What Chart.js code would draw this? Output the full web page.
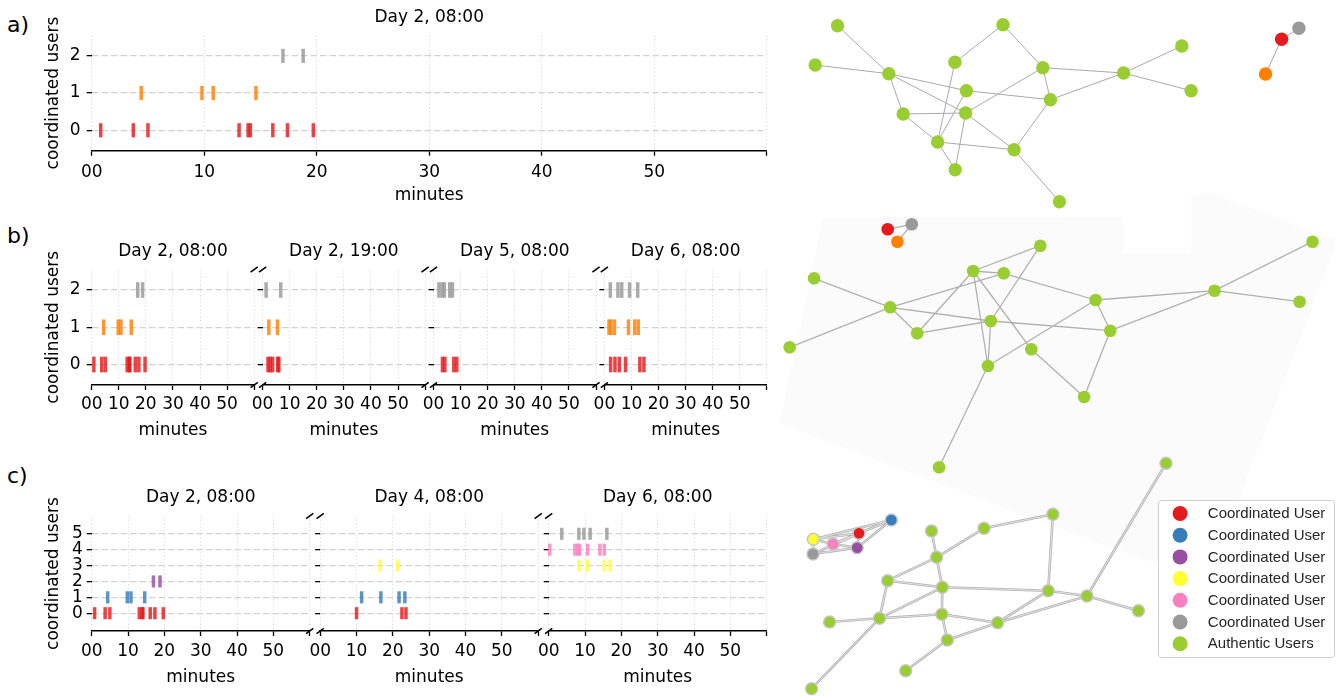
<!DOCTYPE html>
<html>
<head>
<meta charset="utf-8">
<title>Coordinated posting windows and co-activity networks</title>
<script src="https://cdn.jsdelivr.net/npm/chart.js@4.4.1/dist/chart.umd.min.js"></script>
<style>
  html, body { margin: 0; padding: 0; background: #fff; }
  body { position: relative; width: 1343px; height: 696px; overflow: hidden; font-family: "DejaVu Sans", sans-serif; }
  canvas { position: absolute; }
  .panel { position: absolute; left: 7px; font-size: 22px; line-height: 22px; color: #000; }
</style>
</head>
<body>
<div class="panel" style="top:13.6px">a)</div>
<div class="panel" style="top:224.7px">b)</div>
<div class="panel" style="top:464.7px">c)</div>
<script>
// ---------- posting times (minutes after the window opens) ----------
const MINUTE_TICKS = [0, 10, 20, 30, 40, 50, 60];
const MINUTE_TICK_LABELS = ['00', '10', '20', '30', '40', '50', ''];

// Day 2, 08:00
const D2_0800_USER0 = [0.8, 3.7, 5.0, 13.1, 13.9, 14.1, 16.1, 17.4, 19.7];
const D2_0800_USER1 = [4.4, 9.8, 10.8, 14.6];
const D2_0800_USER2 = [17.0, 18.8];

// Day 2, 19:00
const D2_1900_USER0 = [2.0, 2.8, 3.7, 5.6, 6.0];
const D2_1900_USER1 = [2.3, 5.5];
const D2_1900_USER2 = [1.3, 6.7];

// Day 5, 08:00
const D5_0800_USER0 = [3.3, 4.2, 7.5, 8.6];
const D5_0800_USER2 = [2.0, 3.2, 4.0, 6.0, 7.0];

// Day 6, 08:00 (three-account group)
const D6_0800_USER0 = [2.3, 3.9, 5.5, 7.8, 13.1, 14.6];
const D6_0800_USER1 = [1.7, 2.4, 3.7, 8.9, 11.2, 12.5];
const D6_0800_USER2 = [2.2, 5.0, 6.4, 9.3, 12.3];

// Day 4, 08:00 (six-account group)
const D4_0800_USER0 = [10.0, 22.5, 23.6];
const D4_0800_USER1 = [11.4, 16.7, 21.7, 23.3];
const D4_0800_USER3 = [16.5, 21.4];

// Day 6, 08:00 (six-account group)
const D6_0800_USER3 = [8.3, 10.6, 15.3, 16.9];
const D6_0800_USER4 = [0.3, 7.2, 8.0, 8.5, 10.7, 14.1, 15.3];
const D6_0800_USER5 = [3.6, 8.3, 9.7, 11.4, 16.0];

const USERS_3 = [0, 1, 2];
const USERS_6 = [0, 1, 2, 3, 4, 5];

// ---------- co-activity networks (layout units, y grows downward) ----------
const NET_A_USERS = [[57.5,25.7],[35.2,65.0],[108.8,73.7],[223.0,24.7],[174.9,62.3],[262.8,67.7],[186.4,90.7],[270.4,99.7],[343.6,73.0],[401.8,46.0],[411.1,90.7],[123.2,114.0],[185.6,113.0],[157.6,142.0],[234.1,149.7],[175.2,169.7],[279.4,201.7]];
const NET_A_LINKS = [[0,2],[1,2],[2,6],[6,7],[2,11],[2,12],[3,4],[3,5],[4,13],[5,8],[5,7],[5,12],[7,8],[7,14],[8,9],[8,10],[11,12],[11,13],[6,13],[12,15],[12,14],[13,14],[13,15],[14,16]];
const NET_A_COORD = [[501.6,39.3],[485.5,74.0],[518.9,28.3]];
const NET_A_COORD_LINKS = [[0,1],[0,2]];

const NET_B_USERS = [[260.3,245.7],[193.2,271.0],[223.7,273.3],[34.1,278.3],[110.2,307.3],[532.5,241.7],[434.5,290.7],[519.6,301.7],[315.6,300.0],[210.8,321.0],[137.2,333.3],[330.3,330.7],[9.7,347.3],[251.3,349.3],[207.9,366.0],[304.1,397.0],[159.1,467.3]];
const NET_B_LINKS = [[3,4],[12,4],[4,2],[1,0],[1,2],[4,10],[4,9],[10,9],[10,1],[1,14],[9,14],[1,13],[0,9],[2,8],[9,11],[14,8],[8,11],[8,6],[11,6],[6,5],[6,7],[13,15],[11,15],[14,16]];
const NET_B_COORD = [[107.7,229.3],[117.4,241.7],[131.8,224.3]];
const NET_B_COORD_LINKS = [[0,2],[2,1]];

const NET_C_USERS = [[386.0,463.3],[272.9,514.3],[204.0,528.3],[151.5,531.0],[156.6,557.3],[107.7,580.7],[162.3,587.3],[268.2,590.7],[307.0,596.0],[358.4,610.7],[49.6,622.0],[99.5,618.3],[161.9,614.3],[217.6,622.7],[167.3,640.0],[125.7,670.7],[31.6,688.7]];
const NET_C_LINKS = [[0,8],[1,2],[1,7],[2,4],[3,4],[4,5],[4,6],[5,6],[5,11],[6,7],[7,8],[6,11],[6,12],[12,14],[11,12],[10,11],[11,16],[12,13],[7,13],[8,13],[8,9],[13,14],[14,15]];
const NET_C_COORD = [[79.0,533.3],[111.3,520.0],[77.2,547.7],[33.4,539.3],[53.1,544.0],[33.0,554.0]];
const NET_C_COORD_LINKS = [[1,0],[1,3],[1,2],[0,3],[0,4],[0,2],[3,4],[3,5],[4,2],[5,2],[5,0]];

// faint backdrop behind the middle network
const NET_B_BACKDROP = [[43,218],[343,217],[343,253],[411,253],[411,197],[429,193],[557,241],[427,583],[0,423]];

const LEGEND_LABELS = ['Coordinated User', 'Coordinated User', 'Coordinated User', 'Coordinated User', 'Coordinated User', 'Coordinated User', 'Authentic Users'];

// ---------- styling ----------
const SET1 = { red: '228,26,28', blue: '55,126,184', purple: '152,78,163', yellow: '255,255,51', pink: '247,129,191', gray: '153,153,153', orange: '255,127,0' };
const HEX = { red: '#e41a1c', blue: '#377eb8', purple: '#984ea3', yellow: '#ffff33', pink: '#f781bf', gray: '#999999', orange: '#ff7f00', green: '#9acd32' };
const rgba = (c, a) => `rgba(${c},${a})`;
const LEGEND_COLORS = [HEX.red, HEX.blue, HEX.purple, HEX.yellow, HEX.pink, HEX.gray, HEX.green];
const COLORS_3 = ['red', 'orange', 'gray'];
const COLORS_6 = ['red', 'blue', 'purple', 'yellow', 'pink', 'gray'];

Chart.defaults.font.family = "'DejaVu Sans', sans-serif";
Chart.defaults.font.size = 17;
Chart.defaults.color = '#000';

const ROW_A = { T: 35.4, B: 150.7, yMin: -0.55, yMax: 2.55, users: USERS_3, half: 0.19, xTickY: 21.9, xTitleY: 45.1, yTickPad: 6.2 };
const ROW_B = { T: 269.5, B: 385.0, yMin: -0.55, yMax: 2.55, users: USERS_3, half: 0.21, xTickY: 19.4, xTitleY: 45.8, yTickPad: 6.2 };
const ROW_C = { T: 516.0, B: 631.0, yMin: -1.12, yMax: 6.12, users: USERS_6, half: 0.38, xTickY: 20.7, xTitleY: 47.0, yTickPad: 4.0 };
const Y_TITLE_X = 53.4;

const axisBreaks = {
  id: 'axisBreaks',
  afterDraw(chart, args, o) {
    if (!o.left && !o.right) return;
    const { ctx, chartArea: a } = chart;
    ctx.save();
    ctx.strokeStyle = '#000';
    ctx.lineWidth = 1.6;
    const mark = (x, y) => { ctx.beginPath(); ctx.moveTo(x - 3.6, y + 2.6); ctx.lineTo(x + 3.6, y - 2.6); ctx.stroke(); };
    if (o.left) { mark(a.left, a.top); mark(a.left, a.bottom); }
    if (o.right) { mark(a.right, a.top); mark(a.right, a.bottom); }
    ctx.restore();
  }
};

function halfPx(chart, half) {
  const s = chart.scales.y;
  return s ? Math.abs(s.getPixelForValue(0) - s.getPixelForValue(half)) : 6;
}

function drawWindow(w) {
  const row = w.row;
  const H = row.xTitleY + 10.2;
  const cx = w.first ? 0 : Math.floor(w.L) - 40;
  const cy = Math.floor(row.T) - 36;
  const cw = Math.ceil(w.R) + 12 - cx;
  const ch = Math.ceil(row.B + H) + 3 - cy;
  const cv = document.createElement('canvas');
  cv.width = cw; cv.height = ch;
  Object.assign(cv.style, { left: cx + 'px', top: cy + 'px', width: cw + 'px', height: ch + 'px' });
  document.body.appendChild(cv);

  const padL = w.first ? Y_TITLE_X - 10.2 - cx : 10;
  const yW = w.L - cx - padL;
  const padT = row.T - 18 - 10.2 - cy;
  const titleGap = row.T - cy - padT - 20.4;
  const padR = cx + cw - w.R;
  const padB = cy + ch - row.B - H;

  const datasets = w.series.map(([times, user, color]) => ({
    data: times.map(t => ({ x: t, y: user })),
    showLine: false,
    clip: false,
    pointStyle: 'line',
    pointRotation: 90,
    pointRadius: c => halfPx(c.chart, row.half),
    pointBorderWidth: 3.5,
    pointBorderColor: rgba(SET1[color], 0.82),
    pointBackgroundColor: rgba(SET1[color], 0.82)
  }));

  new Chart(cv, {
    type: 'scatter',
    data: { datasets },
    options: {
      responsive: false, animation: false, events: [], devicePixelRatio: 1,
      layout: { autoPadding: false, padding: { left: padL, top: padT, right: padR, bottom: padB } },
      plugins: {
        legend: { display: false }, tooltip: { enabled: false },
        title: { display: true, text: w.title, fullSize: false, color: '#000',
                 font: { size: 17, weight: 'normal' }, padding: { top: 0, bottom: titleGap } },
        axisBreaks: { left: !!w.brkL, right: !!w.brkR }
      },
      scales: {
        x: {
          type: 'linear', min: 0, max: 60,
          afterBuildTicks: s => { s.ticks = MINUTE_TICKS.map(v => ({ value: v })); },
          afterFit: s => { s.height = H; },
          ticks: { callback: (v, i) => MINUTE_TICK_LABELS[i], padding: row.xTickY - 15.2, maxRotation: 0, minRotation: 0, autoSkip: false, color: '#000', font: { size: 17 } },
          grid: { color: '#d9d9d9', lineWidth: 1, tickColor: '#000', tickLength: 5, tickWidth: 1.3, tickBorderDash: [] },
          border: { display: true, color: '#000', width: 1.5, dash: [1.2, 2.4] },
          title: { display: true, text: 'minutes', color: '#000', font: { size: 17 }, padding: { top: 0, bottom: 0 } }
        },
        y: {
          type: 'linear', min: row.yMin, max: row.yMax,
          afterBuildTicks: s => { s.ticks = row.users.map(v => ({ value: v })); },
          afterFit: s => { s.width = yW; },
          ticks: { display: !!w.first, padding: row.yTickPad, autoSkip: false, color: '#000', font: { size: 17 }, callback: v => String(v) },
          grid: { color: '#d2d2d2', lineWidth: 1.3, tickColor: '#000', tickLength: 5, tickWidth: 1.3, tickBorderDash: [] },
          border: { display: false, dash: [6.5, 3] },
          title: { display: !!w.first, text: 'coordinated users', color: '#000', font: { size: 17 }, padding: { top: 0, bottom: 0 } }
        }
      }
    },
    plugins: [axisBreaks]
  });
}

const rowSeries = (colors, pairs) => pairs.map(([times, user]) => [times, user, colors[user]]);

const WINDOWS = [
  { row: ROW_A, L: 91.7, R: 766.7, first: true, title: 'Day 2, 08:00',
    series: rowSeries(COLORS_3, [[D2_0800_USER0, 0], [D2_0800_USER1, 1], [D2_0800_USER2, 2]]) },

  { row: ROW_B, L: 91.7, R: 254.2, first: true, brkR: true, title: 'Day 2, 08:00',
    series: rowSeries(COLORS_3, [[D2_0800_USER0, 0], [D2_0800_USER1, 1], [D2_0800_USER2, 2]]) },
  { row: ROW_B, L: 262.6, R: 425.1, brkL: true, brkR: true, title: 'Day 2, 19:00',
    series: rowSeries(COLORS_3, [[D2_1900_USER0, 0], [D2_1900_USER1, 1], [D2_1900_USER2, 2]]) },
  { row: ROW_B, L: 433.5, R: 596.0, brkL: true, brkR: true, title: 'Day 5, 08:00',
    series: rowSeries(COLORS_3, [[D5_0800_USER0, 0], [D5_0800_USER2, 2]]) },
  { row: ROW_B, L: 604.4, R: 766.9, brkL: true, title: 'Day 6, 08:00',
    series: rowSeries(COLORS_3, [[D6_0800_USER0, 0], [D6_0800_USER1, 1], [D6_0800_USER2, 2]]) },

  { row: ROW_C, L: 91.7, R: 309.7, first: true, brkR: true, title: 'Day 2, 08:00',
    series: rowSeries(COLORS_6, [[D2_0800_USER0, 0], [D2_0800_USER1, 1], [D2_0800_USER2, 2]]) },
  { row: ROW_C, L: 320.2, R: 538.2, brkL: true, brkR: true, title: 'Day 4, 08:00',
    series: rowSeries(COLORS_6, [[D4_0800_USER0, 0], [D4_0800_USER1, 1], [D4_0800_USER3, 3]]) },
  { row: ROW_C, L: 548.7, R: 766.7, brkL: true, title: 'Day 6, 08:00',
    series: rowSeries(COLORS_6, [[D6_0800_USER3, 3], [D6_0800_USER4, 4], [D6_0800_USER5, 5]]) }
];
WINDOWS.forEach(drawWindow);

// ---------- networks ----------
function linkPath(nodes, links) {
  const pts = [];
  links.forEach(([a, b]) => {
    pts.push({ x: nodes[a][0], y: nodes[a][1] }, { x: nodes[b][0], y: nodes[b][1] }, { x: NaN, y: NaN });
  });
  return pts;
}
const edgeSet = (nodes, links, color, width, order) => ({
  data: linkPath(nodes, links), showLine: true, spanGaps: false, clip: false,
  borderColor: color, borderWidth: width, pointRadius: 0, order
});
const nodeSet = (nodes, colors, r, outline) => ({
  data: nodes.map(([x, y]) => ({ x, y })), showLine: false, clip: false,
  pointRadius: r, pointBackgroundColor: colors,
  pointBorderColor: outline ? '#c6c6c6' : colors, pointBorderWidth: outline ? 1.4 : 0, order: 0
});

const netLegend = {
  id: 'netLegend',
  afterDraw(chart, args, o) {
    const { ctx } = chart;
    const xs = chart.scales.x, ys = chart.scales.y;
    const x0 = Math.round(xs.getPixelForValue(o.box[0])) + 0.5;
    const y0 = Math.round(ys.getPixelForValue(o.box[1])) + 0.5;
    const x1 = Math.round(xs.getPixelForValue(o.box[2])) + 0.5;
    const y1 = Math.round(ys.getPixelForValue(o.box[3])) + 0.5;
    ctx.save();
    ctx.beginPath();
    ctx.roundRect(x0, y0, x1 - x0, y1 - y0, 3);
    ctx.fillStyle = '#fff';
    ctx.fill();
    ctx.strokeStyle = '#cfcfcf';
    ctx.lineWidth = 1;
    ctx.stroke();
    ctx.font = "15px 'Liberation Sans', Arial, sans-serif";
    ctx.textBaseline = 'middle';
    ctx.textAlign = 'left';
    LEGEND_LABELS.forEach((label, i) => {
      const cyy = y0 + 13 + i * 21.7;
      ctx.beginPath();
      ctx.arc(x0 + 21.6, cyy, 7.5, 0, Math.PI * 2);
      ctx.fillStyle = LEGEND_COLORS[i];
      ctx.fill();
      ctx.fillStyle = '#262626';
      ctx.fillText(label, x0 + 49.3, cyy + 0.5);
    });
    ctx.restore();
  }
};

const netCanvas = document.createElement('canvas');
netCanvas.width = 563; netCanvas.height = 696;
Object.assign(netCanvas.style, { left: '780px', top: '0px', width: '563px', height: '696px' });
document.body.appendChild(netCanvas);

const greens = n => new Array(n).fill(HEX.green);

new Chart(netCanvas, {
  type: 'scatter',
  data: {
    datasets: [
      nodeSet(NET_A_USERS, greens(NET_A_USERS.length), 6.7, false),
      nodeSet(NET_A_COORD, [HEX.red, HEX.orange, HEX.gray], 6.7, false),
      nodeSet(NET_B_USERS, greens(NET_B_USERS.length), 6.3, false),
      nodeSet(NET_B_COORD, [HEX.red, HEX.orange, HEX.gray], 6.3, false),
      nodeSet(NET_C_USERS, greens(NET_C_USERS.length), 6.0, true),
      nodeSet(NET_C_COORD, [HEX.red, HEX.blue, HEX.purple, HEX.yellow, HEX.pink, HEX.gray], 6.0, true),
      edgeSet(NET_C_USERS, NET_C_LINKS, '#e6e6e6', 0.9, 1),
      edgeSet(NET_C_COORD, NET_C_COORD_LINKS, '#e6e6e6', 0.9, 1),
      edgeSet(NET_C_USERS, NET_C_LINKS, '#b3b3b3', 2.6, 2),
      edgeSet(NET_C_COORD, NET_C_COORD_LINKS, '#b3b3b3', 2.6, 2),
      edgeSet(NET_A_USERS, NET_A_LINKS, '#a9a9a9', 1, 2),
      edgeSet(NET_A_COORD, NET_A_COORD_LINKS, '#a9a9a9', 1, 2),
      edgeSet(NET_B_USERS, NET_B_LINKS, '#b0b0b0', 1.3, 2),
      edgeSet(NET_B_COORD, NET_B_COORD_LINKS, '#b0b0b0', 1.3, 2),
      {
        data: NET_B_BACKDROP.concat([NET_B_BACKDROP[0]]).map(([x, y]) => ({ x, y })),
        showLine: true, fill: 'shape', backgroundColor: '#fbfbfb',
        borderColor: 'rgba(0,0,0,0)', borderWidth: 0, pointRadius: 0, clip: false, order: 3
      }
    ]
  },
  options: {
    responsive: false, animation: false, events: [], devicePixelRatio: 1,
    layout: { autoPadding: false, padding: 0 },
    plugins: {
      legend: { display: false }, tooltip: { enabled: false },
      netLegend: { box: [378, 500, 554, 657] }
    },
    scales: {
      x: { type: 'linear', min: 0, max: 563, display: false },
      y: { type: 'linear', min: 0, max: 696, reverse: true, display: false }
    }
  },
  plugins: [netLegend]
});
</script>
</body>
</html>
